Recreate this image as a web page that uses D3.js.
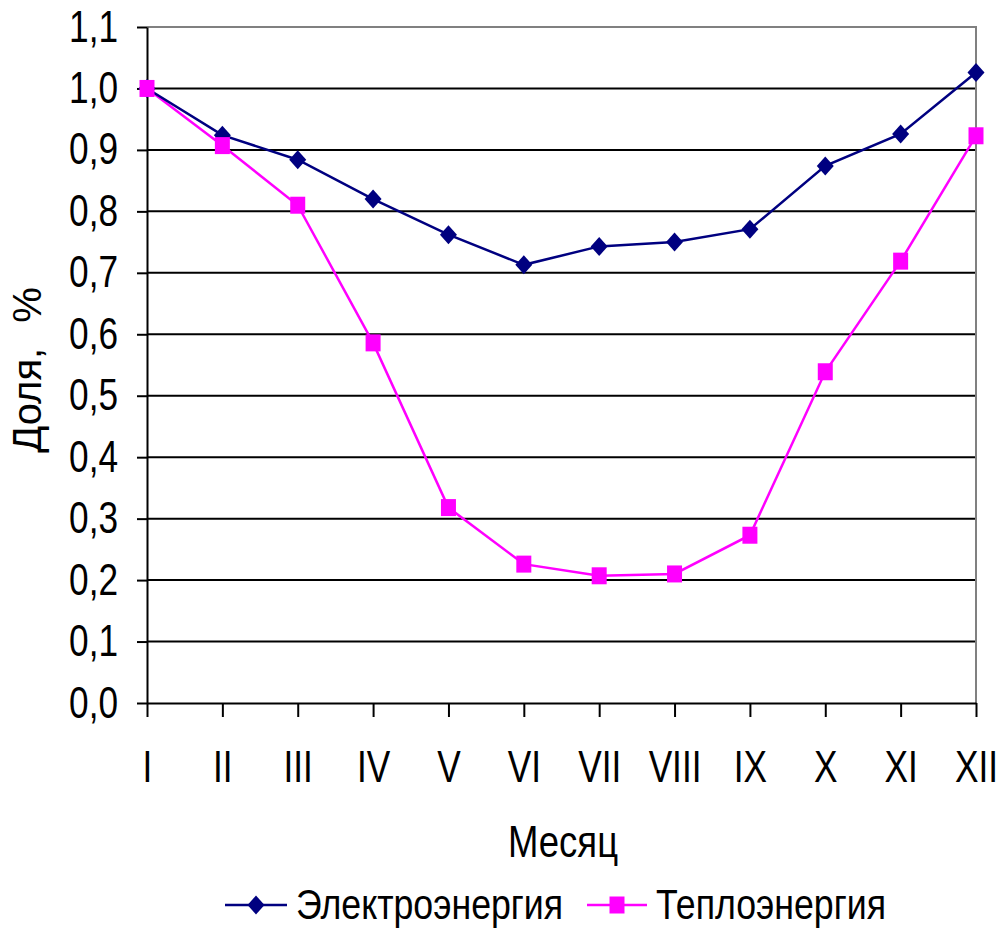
<!DOCTYPE html>
<html>
<head>
<meta charset="utf-8">
<style>
  body { margin: 0; background: #fff; }
  text { font-family: "Liberation Sans", Arial, sans-serif; fill: #000; }
</style>
</head>
<body>
<script src="https://cdn.jsdelivr.net/npm/d3@7"></script>
<script>
// data
var months = ["I", "II", "III", "IV", "V", "VI", "VII", "VIII", "IX", "X", "XI", "XII"];
var electro = [1.0, 0.924, 0.884, 0.82, 0.762, 0.713, 0.743, 0.75, 0.771, 0.874, 0.926, 1.026];
var heat = [1.0, 0.907, 0.81, 0.586, 0.318, 0.226, 0.207, 0.21, 0.273, 0.539, 0.719, 0.923];
var yTicks = [0, 0.1, 0.2, 0.3, 0.4, 0.5, 0.6, 0.7, 0.8, 0.9, 1.0, 1.1];
var seriesNames = ["Электроэнергия", "Теплоэнергия"];

var w = 1002, h = 929;
var pLeft = 147, pRight = 976, pTop = 27, pBottom = 703;
var squeeze = 0.8; // the original fonts look horizontally narrowed

var svg = d3.select("body").append("svg")
    .attr("width", w)
    .attr("height", h);

var x = d3.scalePoint().domain(months).range([pLeft, pRight]);
var y = d3.scaleLinear().domain([0, 1.1]).range([pBottom, pTop]);

var fmt = function(d) { return d3.format(".1f")(d).replace(".", ","); };

// gridlines
svg.append("g").selectAll("line")
    .data(yTicks.slice(1, -1))
    .enter().append("line")
    .attr("x1", pLeft).attr("x2", pRight)
    .attr("y1", function(d) { return y(d); })
    .attr("y2", function(d) { return y(d); })
    .attr("stroke", "#000").attr("stroke-width", 2);

// plot border top/right (grey)
svg.append("path")
    .attr("d", "M" + pLeft + "," + y(1.1) + "H" + pRight + "V" + pBottom)
    .attr("fill", "none").attr("stroke", "#808080").attr("stroke-width", 2);

// y axis
var yAxis = d3.axisLeft(y).tickValues(yTicks).tickSize(10).tickSizeOuter(0).tickFormat(fmt);
var gy = svg.append("g").attr("transform", "translate(" + pLeft + ",0)").call(yAxis);
gy.select(".domain").attr("stroke", "#000").attr("stroke-width", 2);
gy.selectAll(".tick line").attr("stroke", "#000").attr("stroke-width", 2);
gy.selectAll(".tick text")
    .attr("font-size", 44).attr("fill", "#000").attr("font-family", null)
    .attr("x", 0)
    .attr("transform", "translate(-29,0) scale(" + squeeze + ",1)");

// x axis
var xAxis = d3.axisBottom(x).tickSize(14).tickPadding(34).tickSizeOuter(0);
var gx = svg.append("g").attr("transform", "translate(0," + pBottom + ")").call(xAxis);
gx.select(".domain").attr("stroke", "#000").attr("stroke-width", 2);
gx.selectAll(".tick line").attr("stroke", "#000").attr("stroke-width", 2);
gx.selectAll(".tick text")
    .attr("font-size", 44).attr("fill", "#000").attr("font-family", null)
    .attr("transform", "scale(" + squeeze + ",1)");

// axis titles
svg.append("text")
    .attr("text-anchor", "middle")
    .attr("transform", "translate(563,857) scale(0.83,1)")
    .attr("font-size", 44)
    .text("Месяц");

var yTitle = svg.append("text")
    .attr("text-anchor", "middle")
    .attr("transform", "translate(41,370) rotate(-90)")
    .attr("font-size", 40);
yTitle.append("tspan").text("Доля,");
yTitle.append("tspan").attr("dx", 14).text(" %");

// lines
var line = d3.line()
    .x(function(d, i) { return x(months[i]); })
    .y(function(d) { return y(d); });

var diamond = "M0,-9.5L8.5,0L0,9.5L-8.5,0Z";
var square = "M-7.5,-8.5h15v17h-15Z";

svg.append("path").datum(heat)
    .attr("d", line).attr("fill", "none")
    .attr("stroke", "#ff00ff").attr("stroke-width", 2.5);

svg.append("path").datum(electro)
    .attr("d", line).attr("fill", "none")
    .attr("stroke", "#000080").attr("stroke-width", 2.5);

svg.append("g").selectAll("path")
    .data(electro).enter().append("path")
    .attr("d", diamond)
    .attr("transform", function(d, i) { return "translate(" + x(months[i]) + "," + y(d) + ")"; })
    .attr("fill", "#000080");

svg.append("g").selectAll("path")
    .data(heat).enter().append("path")
    .attr("d", square)
    .attr("transform", function(d, i) { return "translate(" + x(months[i]) + "," + y(d) + ")"; })
    .attr("fill", "#ff00ff");

// legend
var legend = svg.append("g").attr("transform", "translate(0,905)");
var items = [
  { name: seriesNames[0], color: "#000080", sym: diamond, x0: 225, len: 62 },
  { name: seriesNames[1], color: "#ff00ff", sym: square, x0: 587, len: 60 }
];
items.forEach(function(it) {
  legend.append("line")
      .attr("x1", it.x0).attr("x2", it.x0 + it.len)
      .attr("stroke", it.color).attr("stroke-width", 2.5);
  legend.append("path")
      .attr("d", it.sym)
      .attr("transform", "translate(" + (it.x0 + it.len / 2) + ",0)")
      .attr("fill", it.color);
  legend.append("text")
      .attr("transform", "translate(" + (it.x0 + it.len + 9) + ",14) scale(0.85,1)")
      .attr("font-size", 42)
      .text(it.name);
});
</script>
</body>
</html>
